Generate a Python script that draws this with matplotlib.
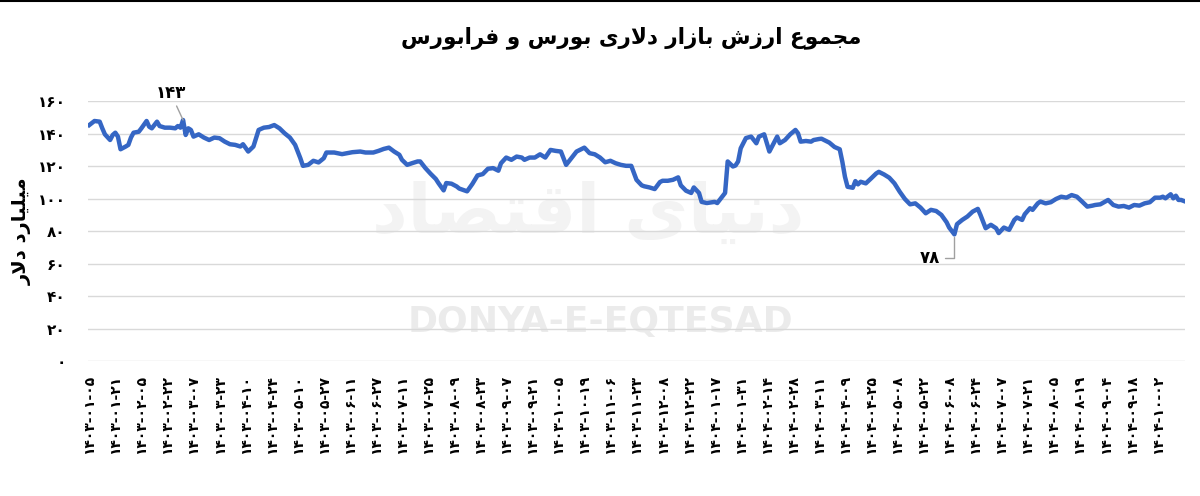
import numpy as np
import matplotlib
matplotlib.use("Agg")
import matplotlib.pyplot as plt
from matplotlib.lines import Line2D

# trading-day index and total market value (billion USD)
day = [0, 2, 4, 5, 6, 8, 9, 10, 11, 12, 14, 15, 16, 17, 19, 20, 22, 23, 24, 26,
       27, 29, 31, 33, 34, 35, 36, 37, 38, 39, 40, 42, 44, 46, 48, 50, 52, 54, 56, 58,
       59, 61, 63, 64, 65, 67, 69, 71, 73, 75, 77, 79, 81, 82, 84, 86, 88, 90, 91, 94,
       97, 99, 101, 104, 106, 109, 111, 113, 115, 117, 119, 120, 122, 124, 126, 127, 129, 131, 133, 134,
       136, 137, 139, 141, 142, 145, 147, 149, 151, 153, 155, 157, 158, 160, 162, 164, 166, 167, 169, 171,
       173, 175, 177, 179, 181, 183, 185, 187, 190, 192, 194, 196, 198, 200, 202, 204, 206, 208, 210, 212,
       213, 215, 217, 219, 220, 222, 224, 226, 227, 229, 231, 232, 234, 235, 237, 240, 241, 243, 244, 245,
       247, 248, 249, 250, 252, 254, 256, 257, 259, 261, 262, 264, 265, 267, 269, 271, 272, 273, 275, 277,
       278, 280, 281, 284, 286, 288, 289, 290, 291, 293, 294, 295, 296, 298, 300, 302, 303, 305, 307, 309,
       311, 313, 315, 317, 319, 321, 323, 325, 327, 329, 330, 332, 333, 335, 337, 339, 341, 342, 344, 346,
       348, 349, 351, 353, 355, 356, 358, 359, 361, 362, 364, 365, 367, 369, 371, 373, 375, 377, 379, 381,
       383, 385, 386, 388, 391, 393, 395, 397, 399, 401, 403, 405, 407, 409, 411, 412, 413, 415, 416, 417,
       418, 419, 420]
value = [145.3, 147.8, 147.4, 143.3, 139.6, 136.1, 139.2, 140.6, 138.2, 130.4, 132.1, 133.1, 137.6, 140.6, 141.2, 143.3, 147.8, 144.3, 143.3, 147.4,
         144.7, 143.7, 143.7, 143.3, 144.7, 143.7, 148.4, 139.2, 143.3, 142.3, 138.2, 139.6, 137.6, 136.1, 137.6, 137.2, 135.1, 133.5, 133.1, 132.1,
         133.5, 129.0, 132.1, 137.2, 142.3, 143.7, 144.1, 145.3, 143.3, 140.2, 137.6, 133.1, 124.9, 120.2, 120.8, 123.3, 122.3, 124.9, 128.4, 128.4,
         127.4, 128.0, 128.6, 129.0, 128.4, 128.4, 129.4, 130.6, 131.4, 129.0, 127.0, 123.9, 120.8, 121.9, 122.9, 122.9, 118.8, 115.3, 112.1, 109.6,
         105.1, 109.6, 109.2, 107.5, 106.2, 104.5, 109.0, 114.3, 115.1, 118.4, 118.8, 117.2, 121.8, 125.3, 123.9, 125.9, 125.3, 123.9, 125.3, 125.3,
         127.3, 125.3, 130.0, 129.4, 129.0, 120.8, 124.9, 129.0, 131.4, 128.0, 127.3, 125.3, 122.4, 123.3, 121.8, 120.8, 120.2, 120.2, 111.6, 108.2,
         107.6, 106.9, 105.9, 110.2, 111.0, 111.0, 111.6, 113.1, 108.2, 104.9, 103.5, 106.9, 103.5, 98.0, 97.3, 98.0, 97.3, 101.4, 103.5, 122.9,
         119.8, 120.4, 122.9, 131.0, 137.3, 138.2, 134.1, 138.2, 139.6, 129.0, 132.1, 138.2, 134.1, 136.1, 139.6, 142.3, 140.2, 135.1, 135.5, 135.1,
         136.1, 136.7, 136.9, 134.5, 131.8, 130.4, 122.7, 113.5, 107.3, 106.7, 110.8, 108.8, 110.4, 109.4, 112.4, 115.5, 116.5, 114.9, 112.9, 109.4,
         104.3, 99.8, 96.5, 97.1, 94.5, 91.0, 93.1, 92.4, 90.0, 85.5, 82.2, 78.0, 84.3, 86.9, 89.0, 92.0, 93.7, 90.0, 81.8, 83.9,
         81.8, 78.8, 82.2, 80.8, 86.9, 88.4, 86.9, 90.4, 94.1, 93.1, 97.1, 98.2, 97.1, 97.8, 99.8, 101.2, 100.6, 102.2, 101.2, 98.2,
         95.1, 95.7, 96.1, 96.5, 99.2, 96.1, 95.1, 95.5, 94.5, 96.1, 95.7, 97.1, 97.8, 100.6, 100.6, 101.2, 100.2, 102.7, 100.2, 101.8,
         99.2, 99.2, 98.6]

tick_days = list(range(0, 420, 10))
tick_dates = ["۱۴۰۳-۰۱-۰۵", "۱۴۰۳-۰۱-۲۱", "۱۴۰۳-۰۲-۰۵", "۱۴۰۳-۰۲-۲۲", "۱۴۰۳-۰۳-۰۷", "۱۴۰۳-۰۳-۲۳",
              "۱۴۰۳-۰۴-۱۰", "۱۴۰۳-۰۴-۲۴", "۱۴۰۳-۰۵-۱۰", "۱۴۰۳-۰۵-۲۷", "۱۴۰۳-۰۶-۱۱", "۱۴۰۳-۰۶-۲۷",
              "۱۴۰۳-۰۷-۱۱", "۱۴۰۳-۰۷-۲۵", "۱۴۰۳-۰۸-۰۹", "۱۴۰۳-۰۸-۲۳", "۱۴۰۳-۰۹-۰۷", "۱۴۰۳-۰۹-۲۱",
              "۱۴۰۳-۱۰-۰۵", "۱۴۰۳-۱۰-۱۹", "۱۴۰۳-۱۱-۰۶", "۱۴۰۳-۱۱-۲۳", "۱۴۰۳-۱۲-۰۸", "۱۴۰۳-۱۲-۲۲",
              "۱۴۰۴-۰۱-۱۷", "۱۴۰۴-۰۱-۳۱", "۱۴۰۴-۰۲-۱۴", "۱۴۰۴-۰۲-۲۸", "۱۴۰۴-۰۳-۱۱", "۱۴۰۴-۰۴-۰۹",
              "۱۴۰۴-۰۴-۲۵", "۱۴۰۴-۰۵-۰۸", "۱۴۰۴-۰۵-۲۲", "۱۴۰۴-۰۶-۰۸", "۱۴۰۴-۰۶-۲۴", "۱۴۰۴-۰۷-۰۷",
              "۱۴۰۴-۰۷-۲۱", "۱۴۰۴-۰۸-۰۵", "۱۴۰۴-۰۸-۱۹", "۱۴۰۴-۰۹-۰۴", "۱۴۰۴-۰۹-۱۸", "۱۴۰۴-۱۰-۰۲"]
y_ticks = [0, 20, 40, 60, 80, 100, 120, 140, 160]
y_tick_labels = ["۰", "۲۰", "۴۰", "۶۰", "۸۰", "۱۰۰", "۱۲۰", "۱۴۰", "۱۶۰"]

title = "مجموع ارزش بازار دلاری بورس و فرابورس"
y_label = "میلیارد دلار"
peak_day, peak_label = 36, "۱۴۳"
low_day, low_label = 332, "۷۸"

# minimal arabic shaping (no reshaper lib available): isolated, final, initial, medial
FORMS = {
    "ا": ("\uFE8D", "\uFE8E", None, None),
    "ب": ("\uFE8F", "\uFE90", "\uFE91", "\uFE92"),
    "ت": ("\uFE95", "\uFE96", "\uFE97", "\uFE98"),
    "ج": ("\uFE9D", "\uFE9E", "\uFE9F", "\uFEA0"),
    "د": ("\uFEA9", "\uFEAA", None, None),
    "ر": ("\uFEAD", "\uFEAE", None, None),
    "ز": ("\uFEAF", "\uFEB0", None, None),
    "س": ("\uFEB1", "\uFEB2", "\uFEB3", "\uFEB4"),
    "ش": ("\uFEB5", "\uFEB6", "\uFEB7", "\uFEB8"),
    "ص": ("\uFEB9", "\uFEBA", "\uFEBB", "\uFEBC"),
    "ع": ("\uFEC9", "\uFECA", "\uFECB", "\uFECC"),
    "ف": ("\uFED1", "\uFED2", "\uFED3", "\uFED4"),
    "ق": ("\uFED5", "\uFED6", "\uFED7", "\uFED8"),
    "ل": ("\uFEDD", "\uFEDE", "\uFEDF", "\uFEE0"),
    "م": ("\uFEE1", "\uFEE2", "\uFEE3", "\uFEE4"),
    "ن": ("\uFEE5", "\uFEE6", "\uFEE7", "\uFEE8"),
    "و": ("\uFEED", "\uFEEE", None, None),
    "ی": ("\uFEEF", "\uFEF0", "\uFEF3", "\uFEF4"),
}


def shape(text):
    out = []
    i = 0
    n = len(text)
    while i < n:
        c = text[i]
        if c not in FORMS:
            out.append(c)
            i += 1
            continue
        prev = text[i - 1] if i > 0 else None
        jp = prev in FORMS and FORMS[prev][2] is not None
        if c == "ل" and i + 1 < n and text[i + 1] == "ا":
            out.append("\uFEFC" if jp else "\uFEFB")
            i += 2
            continue
        nxt = text[i + 1] if i + 1 < n else None
        jn = FORMS[c][2] is not None and nxt in FORMS
        f = FORMS[c]
        if jp and jn:
            out.append(f[3])
        elif jp:
            out.append(f[1])
        elif jn:
            out.append(f[2])
        else:
            out.append(f[0])
        i += 1
    return "".join(reversed(out))


plt.rcParams["font.family"] = ["DejaVu Sans"]

fig = plt.figure(figsize=(12, 4.96), dpi=100)
ax = fig.add_axes([0.0733, 0.272, 0.9142, 0.524])
ax.set_facecolor("none")

# watermarks, kept under the axes content
ax.text(0.49, 0.57, shape("دنیای اقتصاد"), transform=fig.transFigure, fontsize=50,
        fontweight="bold", color="#f3f3f3", ha="center", va="center", zorder=0.5)
ax.text(0.5, 0.35, "DONYA-E-EQTESAD", transform=fig.transFigure, fontsize=26,
        fontweight="bold", color="#ebebeb", ha="center", va="center", zorder=0.5)

ax.plot(day, value, color="#3566c4", linewidth=3.2, solid_joinstyle="round", zorder=3)

ax.set_xlim(-0.5, 420.5)
ax.set_ylim(0, 160)
ax.set_yticks(y_ticks)
ax.set_yticklabels(y_tick_labels, fontsize=11, fontweight="bold")
ax.set_xticks(tick_days)
ax.set_xticklabels(tick_dates, rotation=90, fontsize=10, fontweight="bold")
ax.tick_params(axis="both", length=0)
ax.tick_params(axis="y", pad=16)
ax.tick_params(axis="x", pad=10)
ax.grid(axis="y", color="#d9d9d9", linewidth=1, zorder=1)
for s in ax.spines.values():
    s.set_visible(False)

ax.set_ylabel(shape(y_label), fontsize=14, fontweight="bold", labelpad=4)

fig.text(0.526, 0.925, shape(title), fontsize=15.5, fontweight="bold",
         ha="center", va="center")

# point labels
pk = value[day.index(peak_day)]
ax.annotate(peak_label, xy=(peak_day, pk), xytext=(-9, 13), textcoords="offset points",
            ha="center", va="bottom", fontsize=12, fontweight="bold", zorder=4,
            arrowprops=dict(arrowstyle="-", color="#a0a0a0", lw=1, shrinkA=1, shrinkB=0))
lo = value[day.index(low_day)]
ax.annotate(low_label, xy=(low_day, lo), xytext=(-18, -17), textcoords="offset points",
            ha="center", va="center", fontsize=12, fontweight="bold", zorder=4,
            arrowprops=dict(arrowstyle="-", color="#a0a0a0", lw=1, shrinkA=2, shrinkB=2,
                            relpos=(1, 0.5),
                            connectionstyle="angle,angleA=0,angleB=90,rad=0"))

fig.add_artist(Line2D([0, 1], [0.998, 0.998], color="black", linewidth=1.5,
                      transform=fig.transFigure))

fig.savefig("out.png", dpi=100)
